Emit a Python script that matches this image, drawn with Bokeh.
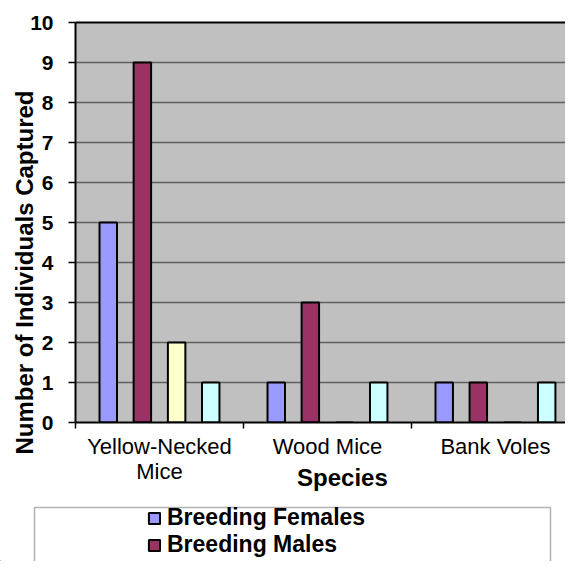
import numpy as np
from bokeh.plotting import figure
from bokeh.layouts import column
from bokeh.models import (Range1d, FixedTicker, LinearAxis, Legend, LegendItem,
                          BoxAnnotation, ColumnDataSource)
from bokeh.embed import file_html
from bokeh.resources import INLINE

# ---- data ----
categories = ["Yellow-Necked\nMice", "Wood Mice", "Bank Voles"]
series_names = ["Breeding Females", "Breeding Males", "Series 3", "Series 4"]
breeding_females = [5, 1, 1]
breeding_males = [9, 3, 1]
series_3 = [2, 0, 0]
series_4 = [1, 1, 1]
y_ticks = list(range(0, 11))
x_title = "Species"
y_title = "Number of Individuals Captured"

colors = ["#9999FF", "#993366", "#FFFFCC", "#CCFFFF"]
offsets = [-0.305, -0.102, 0.102, 0.305]
bar_w = 0.104

FONT = "Liberation Sans"
W = 565

p = figure(width=W, height=505, output_backend="svg", toolbar_location=None,
           x_range=Range1d(0, 2.917), y_range=Range1d(0, 10),
           min_border_left=75, min_border_right=0, min_border_top=22,
           min_border_bottom=83)
p.frame_align = False
p.background_fill_color = "#C0C0C0"
p.border_fill_color = "white"
p.outline_line_color = None

base = np.arange(len(categories)) + 0.5
renderers = []
for vals, col, off in zip([breeding_females, breeding_males, series_3, series_4],
                          colors, offsets):
    r = p.vbar(x=base + off, top=vals, width=bar_w, bottom=0,
               fill_color=col, line_color="black", line_width=2)
    renderers.append(r)

# grid
p.xgrid.grid_line_color = None
p.ygrid.ticker = FixedTicker(ticks=y_ticks)
p.ygrid.grid_line_color = "#5f5f5f"
p.ygrid.grid_line_width = 1.4

# y axis
ya = p.yaxis[0]
ya.ticker = FixedTicker(ticks=y_ticks)
ya.axis_line_color = "black"
ya.axis_line_width = 2
ya.major_tick_out = 7
ya.major_tick_in = 0
ya.major_tick_line_color = "black"
ya.major_tick_line_width = 1.5
ya.minor_tick_line_color = None
ya.major_label_standoff = 15
ya.major_label_text_font = FONT
ya.major_label_text_font_style = "bold"
ya.major_label_text_font_size = "21px"
ya.major_label_text_color = "black"

# y title carried by a second left axis (centred like the original)
y_title_pos = 3.75
yt = LinearAxis(ticker=FixedTicker(ticks=[y_title_pos]),
                major_label_overrides={y_title_pos: y_title},
                major_label_orientation="vertical",
                axis_line_color=None, major_tick_line_color=None,
                minor_tick_line_color=None, major_tick_out=0, major_tick_in=0,
                major_label_standoff=-10,
                major_label_text_font=FONT, major_label_text_font_style="bold",
                major_label_text_font_size="24px", major_label_text_color="black")
p.add_layout(yt, "left")

# x axis
xa = p.xaxis[0]
xa.ticker = FixedTicker(ticks=list(base), minor_ticks=list(range(len(categories) + 1)))
xa.major_label_overrides = {float(b): c for b, c in zip(base, categories)}
xa.axis_line_color = "black"
xa.axis_line_width = 2
xa.major_tick_line_color = None
xa.major_tick_out = 0
xa.major_tick_in = 0
xa.minor_tick_line_color = "black"
xa.minor_tick_line_width = 1.5
xa.minor_tick_out = 6
xa.minor_tick_in = 0
xa.major_label_standoff = 5
xa.major_label_text_font = FONT
xa.major_label_text_font_size = "22px"
xa.major_label_text_line_height = 1.0
xa.major_label_text_color = "black"

# x title carried by a second below axis
x_title_pos = 1.589
xt = LinearAxis(ticker=FixedTicker(ticks=[x_title_pos]),
                major_label_overrides={x_title_pos: x_title},
                axis_line_color=None, major_tick_line_color=None,
                minor_tick_line_color=None, major_tick_out=0, major_tick_in=0,
                major_label_standoff=-23,
                major_label_text_font=FONT, major_label_text_font_style="bold",
                major_label_text_font_size="24px", major_label_text_color="black")
p.add_layout(xt, "below")

# top border as an axis
top = LinearAxis(ticker=FixedTicker(ticks=[]), axis_line_color="black",
                 axis_line_width=2, major_tick_line_color=None,
                 minor_tick_line_color=None, major_label_text_font_size="0px")
p.add_layout(top, "above")

# ---- legend strip ----
H2 = 56
q = figure(width=W, height=H2, output_backend="svg", toolbar_location=None,
           x_range=Range1d(0, W), y_range=Range1d(0, H2),
           min_border_left=0, min_border_right=0, min_border_top=0,
           min_border_bottom=0)
q.frame_align = False
q.axis.visible = False
q.grid.grid_line_color = None
q.outline_line_color = None
q.background_fill_color = "white"
q.border_fill_color = "white"

q.add_layout(BoxAnnotation(left=34, right=550, top=H2 - 2, bottom=-20,
                           fill_color=None, fill_alpha=0, line_color="black",
                           line_width=1.5))

# legend proxies (kept outside the visible strip)
proxy = ColumnDataSource(data=dict(x=[-100], top=[0]))
lr = [q.vbar(x="x", top="top", width=1, source=proxy, fill_color=c,
             line_color="black", line_width=2) for c in colors[:2]]

legend = Legend(items=[LegendItem(label=series_names[0], renderers=[lr[0]]),
                       LegendItem(label=series_names[1], renderers=[lr[1]])],
                location=(147, 3), orientation="vertical",
                border_line_color=None, background_fill_alpha=0,
                padding=0, spacing=-4, glyph_width=14, glyph_height=14,
                label_height=22, label_standoff=6,
                label_text_font=FONT, label_text_font_style="bold",
                label_text_font_size="23px", label_text_color="black")
q.add_layout(legend, "center")

layout = column(p, q, spacing=0)
open("out.html", "w").write(file_html(layout, INLINE))
